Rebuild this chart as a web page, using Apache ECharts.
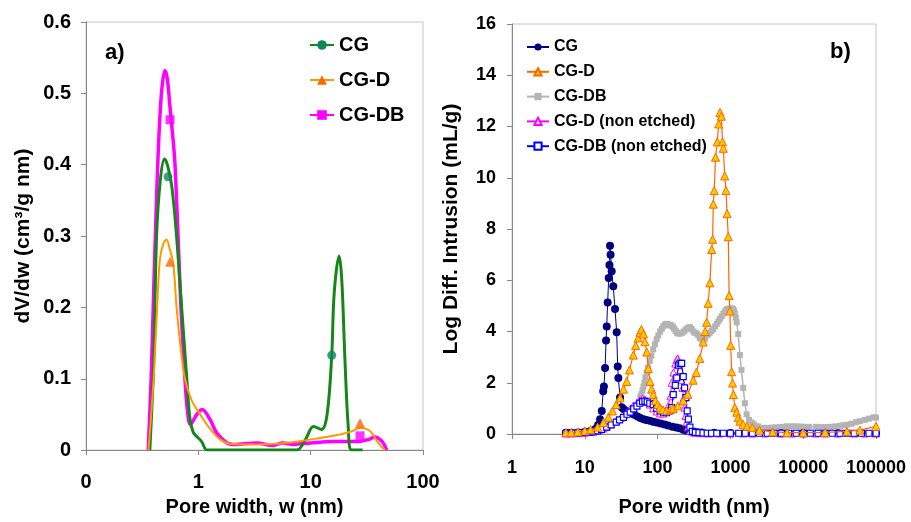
<!DOCTYPE html>
<html>
<head>
<meta charset="utf-8">
<script src="https://cdn.jsdelivr.net/npm/echarts@6/dist/echarts.min.js"></script>
<style>
  html, body { margin: 0; background: #fff; }
  #chart { width: 911px; height: 522px; }
</style>
</head>
<body>
<div id="chart"></div>
<script>
// ---- panel a) : dV/dw vs pore width (smoothed curves) ----
const aCgX = [0.37, 0.40, 0.425, 0.46, 0.50, 0.53, 0.58, 0.64, 0.71, 0.79, 0.84, 0.90, 0.97, 1.07, 1.2, 2, 4, 7.5, 9, 10.6, 12.5, 14, 15.4, 16.2, 17.9, 18.9, 20.2, 21.6, 23.2, 29];
const aCgY = [0, 0.12, 0.30, 0.38, 0.408, 0.40, 0.37, 0.30, 0.20, 0.10, 0.045, 0.025, 0.019, 0.012, 0, 0, 0, 0, 0.015, 0.033, 0.029, 0.05, 0.133, 0.22, 0.272, 0.24, 0.126, 0.033, 0, 0];

const aCgdX = [0.36, 0.40, 0.43, 0.455, 0.49, 0.52, 0.56, 0.60, 0.64, 0.70, 0.76, 0.87, 1.04, 1.27, 1.56, 1.9, 3, 5, 8, 12.1, 18.3, 23, 27.5, 32, 35, 38, 42, 46];
const aCgdY = [0, 0.10, 0.20, 0.268, 0.29, 0.295, 0.28, 0.26, 0.20, 0.14, 0.10, 0.07, 0.05, 0.03, 0.015, 0.009, 0.008, 0.009, 0.0125, 0.017, 0.022, 0.026, 0.031, 0.029, 0.024, 0.015, 0.006, 0];

const aCgdbX = [0.358, 0.38, 0.40, 0.42, 0.44, 0.46, 0.48, 0.505, 0.53, 0.56, 0.60, 0.62, 0.66, 0.70, 0.76, 0.80, 0.85, 0.97, 1.08, 1.27, 1.46, 1.8, 2.04, 3.3, 4.6, 5.7, 7, 10, 16, 24, 28, 33, 37, 43, 47.5];
const aCgdbY = [0, 0.10, 0.22, 0.33, 0.42, 0.48, 0.515, 0.532, 0.52, 0.48, 0.43, 0.40, 0.30, 0.20, 0.10, 0.055, 0.036, 0.05, 0.057, 0.043, 0.024, 0.01, 0.008, 0.01, 0.0065, 0.01, 0.008, 0.01, 0.012, 0.012, 0.0125, 0.015, 0.0185, 0.0125, 0];

// the few markers drawn on the curves
const aMarkCgX = [0.537, 15.4];
const aMarkCgY = [0.383, 0.133];
const aMarkCgdX = [0.56, 27.5];
const aMarkCgdY = [0.264, 0.038];
const aMarkCgdbX = [0.56, 27.5];
const aMarkCgdbY = [0.463, 0.02];

// ---- panel b) : log differential intrusion vs pore width ----
const bCgX = [5.5, 6.5, 8, 10, 12, 14, 15.2, 16.2, 17.1, 17.9, 18.3, 19.0, 19.6, 20.0, 20.6, 21.3, 21.8, 22.2, 22.6, 23.4, 24.6, 26.0, 27.4, 28.3, 28.9, 30.5, 32.1, 34, 37, 40, 44, 48, 53, 58, 64, 70, 78, 87, 97, 110, 125, 140, 160, 180, 200, 225, 250, 280, 310, 350, 400, 600, 1000, 2000, 5000, 10000, 30000, 100000];
const bCgY = [0.05, 0.05, 0.06, 0.08, 0.12, 0.2, 0.35, 0.58, 0.9, 1.67, 1.85, 2.58, 3.65, 4.2, 5.13, 6.09, 6.6, 7.35, 7.0, 6.35, 5.77, 4.88, 3.97, 2.63, 2.19, 1.42, 1.04, 0.98, 0.9, 0.85, 0.8, 0.75, 0.68, 0.62, 0.58, 0.55, 0.52, 0.48, 0.45, 0.41, 0.37, 0.33, 0.28, 0.25, 0.22, 0.17, 0.13, 0.1, 0.08, 0.07, 0.06, 0.05, 0.04, 0.03, 0.03, 0.03, 0.03, 0.03];

const bCgdX = [5.5, 6.5, 8, 10, 12, 15, 18, 21, 24, 27, 30.5, 34, 37.6, 41, 46.4, 50, 54, 57.3, 60, 64, 67, 71, 74.7, 78.6, 83, 87, 93, 100, 108, 118, 133, 150, 164, 190, 225, 260, 308, 340, 380, 424, 450, 472, 495, 522, 553, 570, 582, 600, 625, 660, 690, 720, 750, 780, 800, 835, 870, 900, 935, 960, 985, 1010, 1040, 1070, 1100, 1150, 1220, 1280, 1350, 1490, 1700, 2000, 2500, 3800, 6000, 10000, 20000, 40000, 60000, 100000];
const bCgdY = [0.05, 0.06, 0.08, 0.12, 0.17, 0.27, 0.45, 0.65, 0.9, 1.15, 1.41, 1.75, 2.05, 2.5, 3.08, 3.45, 3.75, 3.97, 4.08, 3.9, 3.6, 3.2, 2.56, 2.05, 1.75, 1.54, 1.3, 1.15, 1.03, 0.95, 0.92, 0.95, 1.0, 1.1, 1.3, 1.55, 2.1, 2.4, 2.95, 3.59, 4.0, 4.36, 5.1, 5.9, 7.2, 7.6, 8.97, 9.5, 10.8, 11.4, 12.1, 12.55, 12.4, 11.4, 11.15, 10.07, 9.5, 8.6, 7.7, 5.4, 4.8, 3.46, 2.43, 1.99, 1.54, 1.03, 0.85, 0.64, 0.5, 0.38, 0.3, 0.25, 0.15, 0.08, 0.05, 0.05, 0.06, 0.1, 0.15, 0.3];

const bCgdbX = [58, 60, 62, 64, 66, 68, 71, 74, 78, 82, 87, 92, 97, 102, 108, 114, 120, 126, 133, 139, 145, 150, 156, 163, 170, 177, 185, 194, 204, 216, 230, 242, 255, 266, 278, 293, 310, 326, 344, 362, 380, 400, 424, 447, 472, 495, 520, 550, 582, 615, 650, 685, 720, 760, 800, 840, 880, 907, 935, 965, 1000, 1045, 1090, 1120, 1150, 1185, 1220, 1280, 1350, 1420, 1500, 1580, 1670, 1800, 1950, 2100, 2400, 2800, 3200, 3700, 4200, 4800, 5400, 6000, 7000, 8000, 9000, 10000, 12000, 15000, 17500, 20000, 24000, 28000, 32000, 36000, 40000, 46000, 53000, 60000, 70000, 80000, 92000, 100000];
const bCgdbY = [1.45, 1.55, 1.7, 1.85, 2.0, 2.2, 2.4, 2.6, 2.85, 3.05, 3.3, 3.5, 3.7, 3.85, 4.0, 4.1, 4.2, 4.27, 4.3, 4.28, 4.25, 4.24, 4.23, 4.17, 4.1, 4.02, 3.95, 3.92, 3.92, 3.95, 4.0, 4.07, 4.12, 4.15, 4.17, 4.1, 4.0, 3.95, 3.92, 3.85, 3.75, 3.7, 3.65, 3.72, 3.85, 3.9, 3.95, 4.02, 4.1, 4.2, 4.3, 4.4, 4.5, 4.6, 4.7, 4.78, 4.85, 4.87, 4.88, 4.89, 4.9, 4.9, 4.88, 4.8, 4.7, 4.55, 4.36, 3.9, 3.08, 2.5, 1.8, 1.2, 0.77, 0.55, 0.45, 0.38, 0.3, 0.24, 0.24, 0.25, 0.26, 0.27, 0.28, 0.3, 0.3, 0.3, 0.29, 0.28, 0.28, 0.28, 0.27, 0.27, 0.28, 0.3, 0.32, 0.34, 0.36, 0.4, 0.46, 0.5, 0.55, 0.6, 0.65, 0.64];

const bCgdNeX = [5.5, 6.5, 8, 10, 12, 14, 16, 18, 20, 23, 27, 31, 35, 38, 42, 46, 52, 57, 62, 67, 72, 78, 87, 97, 108, 120, 133, 140, 150, 156, 165, 175, 183, 189, 195, 204, 213, 220, 227, 233, 241, 250, 262, 280, 320, 400, 500, 700, 1000, 1500, 2000, 3000, 5000, 7000, 10000, 15000, 20000, 30000, 50000, 70000, 100000];
const bCgdNeY = [0.02, 0.02, 0.03, 0.05, 0.08, 0.12, 0.17, 0.22, 0.28, 0.38, 0.5, 0.62, 0.75, 0.85, 0.98, 1.1, 1.22, 1.32, 1.38, 1.35, 1.25, 1.15, 1.0, 0.88, 0.8, 0.8, 0.9, 1.1, 1.47, 2.0, 2.4, 2.75, 2.9, 2.95, 2.85, 2.5, 2.1, 1.8, 1.4, 1.03, 0.7, 0.46, 0.27, 0.12, 0.05, 0.03, 0.02, 0.02, 0.02, 0.02, 0.02, 0.02, 0.02, 0.02, 0.02, 0.02, 0.02, 0.02, 0.02, 0.02, 0.02];

const bCgdbNeX = [5.5, 6, 6.5, 7, 8, 9, 10, 11.5, 13, 15, 17, 20, 23, 27, 30, 34, 38, 42, 47, 52, 57, 62, 67, 72, 78, 87, 97, 108, 120, 133, 145, 156, 164, 175, 183, 193, 204, 214, 225, 235, 245, 255, 265, 278, 300, 330, 370, 420, 480, 550, 650, 800, 1000, 1300, 1600, 2000, 2500, 3200, 4000, 5000, 6300, 8000, 10000, 12500, 16000, 20000, 25000, 32000, 40000, 50000, 63000, 80000, 100000];
const bCgdbNeY = [0.03, 0.03, 0.03, 0.03, 0.04, 0.05, 0.06, 0.07, 0.08, 0.12, 0.18, 0.27, 0.36, 0.46, 0.55, 0.65, 0.77, 0.85, 0.98, 1.09, 1.2, 1.26, 1.28, 1.25, 1.2, 1.15, 1.0, 0.9, 0.85, 0.83, 0.9, 1.03, 1.54, 1.9, 2.19, 2.69, 2.76, 2.76, 2.24, 1.8, 1.42, 0.9, 0.58, 0.27, 0.1, 0.06, 0.05, 0.04, 0.03, 0.03, 0.03, 0.03, 0.03, 0.03, 0.03, 0.03, 0.03, 0.03, 0.03, 0.03, 0.03, 0.03, 0.03, 0.03, 0.03, 0.03, 0.03, 0.03, 0.03, 0.03, 0.03, 0.03, 0.03];

const aLegend = ['CG', 'CG-D', 'CG-DB'];
const bLegend = ['(b) CG', '(b) CG-D', '(b) CG-DB', '(b) CG-D (non etched)', '(b) CG-DB (non etched)'];

function zip(xs, ys) {
  return xs.map((x, i) => [x, ys[i]]);
}

const font = 'Liberation Sans, Arial, sans-serif';
const chart = echarts.init(document.getElementById('chart'));

const axisLine = { lineStyle: { color: '#868686', width: 1 } };

const option = {
  animation: false,
  backgroundColor: '#fff',
  textStyle: { fontFamily: font },
  grid: [
    { left: 86, top: 22, width: 337, height: 432, show: true, borderColor: '#c4c4c4', borderWidth: 1 },
    { left: 512, top: 24, width: 364, height: 416, show: true, borderColor: '#c4c4c4', borderWidth: 1 },
  ],
  xAxis: [
    {
      type: 'log', gridIndex: 0, logBase: 10, min: 0.1, max: 100,
      axisLine: axisLine,
      axisTick: { length: 5, lineStyle: { color: '#868686' } },
      splitLine: { show: false },
      axisLabel: {
        margin: 22, fontSize: 20, fontWeight: 'bold', color: '#000', fontFamily: font,
        formatter: (v) => (v < 0.5 ? '0' : String(Math.round(v))),
      },
      name: 'Pore width, w (nm)', nameLocation: 'middle', nameGap: 45,
      nameTextStyle: { fontSize: 20, fontWeight: 'bold', color: '#000', fontFamily: font },
    },
    {
      type: 'log', gridIndex: 1, logBase: 10, min: 1, max: 100000,
      axisLine: axisLine,
      axisTick: { length: 5, lineStyle: { color: '#868686' } },
      splitLine: { show: false },
      axisLabel: {
        margin: 25, fontSize: 18, fontWeight: 'bold', color: '#000', fontFamily: font,
        formatter: (v) => String(Math.round(v)),
      },
      name: 'Pore width (nm)', nameLocation: 'middle', nameGap: 63,
      nameTextStyle: { fontSize: 20, fontWeight: 'bold', color: '#000', fontFamily: font },
    },
  ],
  yAxis: [
    {
      type: 'value', gridIndex: 0, min: 0, max: 0.6, interval: 0.1,
      axisLine: Object.assign({ show: true }, axisLine),
      axisTick: { show: true, length: 5, lineStyle: { color: '#868686' } },
      splitLine: { show: false },
      axisLabel: { margin: 15, fontSize: 20, fontWeight: 'bold', color: '#000', fontFamily: font },
      name: 'dV/dw (cm³/g nm)', nameLocation: 'middle', nameGap: 52,
      nameTextStyle: { fontSize: 21, fontWeight: 'bold', color: '#000', fontFamily: font },
    },
    {
      type: 'value', gridIndex: 1, min: 0, max: 16, interval: 2,
      axisLine: Object.assign({ show: true }, axisLine),
      axisTick: { show: true, length: 5, lineStyle: { color: '#868686' } },
      splitLine: { show: false },
      axisLabel: { margin: 16, fontSize: 18, fontWeight: 'bold', color: '#000', fontFamily: font },
      name: 'Log Diff. Intrusion (mL/g)', nameLocation: 'middle', nameGap: 50,
      nameTextStyle: { fontSize: 21, fontWeight: 'bold', color: '#000', fontFamily: font },
    },
  ],
  legend: [
    {
      data: aLegend, orient: 'vertical', left: 309, top: 35, padding: 0,
      itemWidth: 24, itemHeight: 12, itemGap: 15,
      textStyle: { fontSize: 20, fontWeight: 'bold', color: '#000', fontFamily: font },
    },
    {
      data: bLegend, orient: 'vertical', left: 526, top: 39, padding: 0,
      itemWidth: 22, itemHeight: 9, itemGap: 8.8,
      formatter: (name) => name.replace('(b) ', ''),
      textStyle: { fontSize: 16, fontWeight: 'bold', color: '#000', fontFamily: font },
    },
  ],
  graphic: [
    { type: 'text', left: 105, top: 42, style: { text: 'a)', font: 'bold 22px ' + font, fill: '#000' } },
    { type: 'text', left: 830, top: 41, style: { text: 'b)', font: 'bold 22px ' + font, fill: '#000' } },
  ],
  series: [
    // panel a) curves
    {
      name: 'CG', type: 'line', xAxisIndex: 0, yAxisIndex: 0, data: zip(aCgX, aCgY),
      smooth: 0.35, showSymbol: false, symbol: 'circle',
      lineStyle: { color: '#15871a', width: 3 }, itemStyle: { color: '#10875a' }, z: 3,
    },
    {
      name: 'CG-D', type: 'line', xAxisIndex: 0, yAxisIndex: 0, data: zip(aCgdX, aCgdY),
      smooth: 0.35, showSymbol: false, symbol: 'triangle',
      lineStyle: { color: '#ff9900', width: 2 }, itemStyle: { color: '#ff6600' }, z: 4,
    },
    {
      name: 'CG-DB', type: 'line', xAxisIndex: 0, yAxisIndex: 0, data: zip(aCgdbX, aCgdbY),
      smooth: 0.35, showSymbol: false, symbol: 'rect',
      lineStyle: { color: '#ff00ff', width: 3.5 }, itemStyle: { color: '#ff00ff' }, z: 2,
    },
    {
      name: 'CG marks', type: 'scatter', xAxisIndex: 0, yAxisIndex: 0, data: zip(aMarkCgX, aMarkCgY),
      symbol: 'circle', symbolSize: 9, itemStyle: { color: '#10875a' }, z: 5,
    },
    {
      name: 'CG-D marks', type: 'scatter', xAxisIndex: 0, yAxisIndex: 0, data: zip(aMarkCgdX, aMarkCgdY),
      symbol: 'triangle', symbolSize: 10, itemStyle: { color: '#ff6600' }, z: 5,
    },
    {
      name: 'CG-DB marks', type: 'scatter', xAxisIndex: 0, yAxisIndex: 0, data: zip(aMarkCgdbX, aMarkCgdbY),
      symbol: 'rect', symbolSize: 9, itemStyle: { color: '#ff00ff' }, z: 5,
    },
    // panel b) curves
    {
      name: '(b) CG-DB', type: 'line', xAxisIndex: 1, yAxisIndex: 1, data: zip(bCgdbX, bCgdbY),
      symbol: 'rect', symbolSize: 6, showAllSymbol: true,
      lineStyle: { color: '#b4b4b4', width: 1.5 }, itemStyle: { color: '#b4b4b4' }, z: 2,
    },
    {
      name: '(b) CG', type: 'line', xAxisIndex: 1, yAxisIndex: 1, data: zip(bCgX, bCgY),
      symbol: 'circle', symbolSize: 8, showAllSymbol: true,
      lineStyle: { color: '#000080', width: 1 }, itemStyle: { color: '#000080' }, z: 3,
    },
    {
      name: '(b) CG-D (non etched)', type: 'line', xAxisIndex: 1, yAxisIndex: 1, data: zip(bCgdNeX, bCgdNeY),
      symbol: 'triangle', symbolSize: 7, showAllSymbol: true,
      lineStyle: { color: '#ff00ff', width: 1 }, itemStyle: { color: '#fff', borderColor: '#ff00ff', borderWidth: 1 }, z: 4,
    },
    {
      name: '(b) CG-DB (non etched)', type: 'line', xAxisIndex: 1, yAxisIndex: 1, data: zip(bCgdbNeX, bCgdbNeY),
      symbol: 'rect', symbolSize: 6, showAllSymbol: true,
      lineStyle: { color: '#0000ff', width: 1 }, itemStyle: { color: '#fff', borderColor: '#0000ff', borderWidth: 1.2 }, z: 5,
    },
    {
      name: '(b) CG-D', type: 'line', xAxisIndex: 1, yAxisIndex: 1, data: zip(bCgdX, bCgdY),
      symbol: 'triangle', symbolSize: 8, showAllSymbol: true,
      lineStyle: { color: '#ff6600', width: 1.2 }, itemStyle: { color: '#ffcc00', borderColor: '#ff6600', borderWidth: 1 }, z: 6,
    },
  ],
};

chart.setOption(option);
</script>
</body>
</html>
